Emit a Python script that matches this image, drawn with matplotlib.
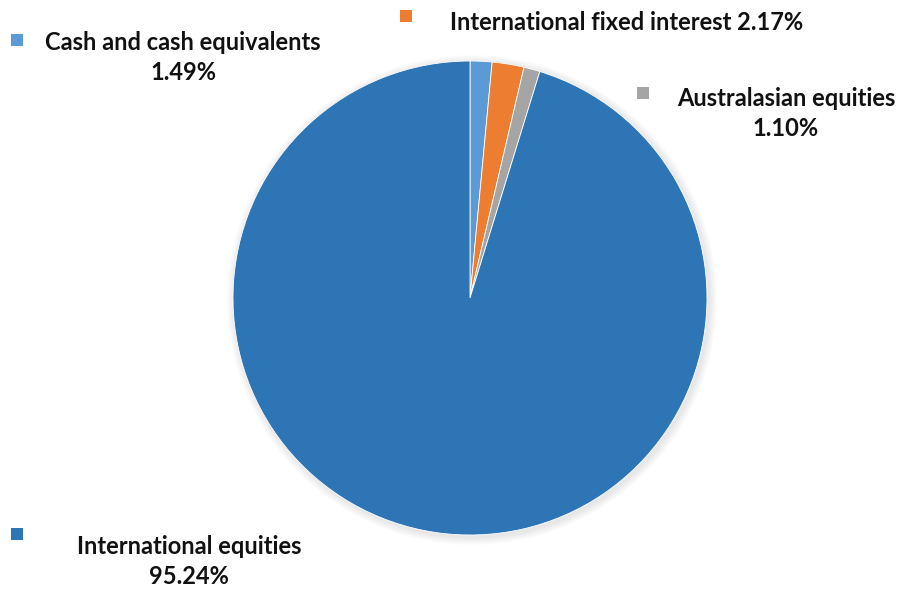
import matplotlib.pyplot as plt
import numpy as np

# --- Data ---
labels = ["Cash and cash equivalents", "International fixed interest",
          "Australasian equities", "International equities"]
values = [1.49, 2.17, 1.10, 95.24]
colors = ["#5B9BD5", "#ED7D31", "#A5A5A5", "#2E75B6"]

W, H = 901, 589
fig = plt.figure(figsize=(W / 100, H / 100), dpi=100)
ax = fig.add_axes([0, 0, 1, 1])

cx, cy, r = 470, 298, 237

# soft shadow behind pie
for k in range(8):
    circ = plt.Circle((cx + 2, cy + 2), r + 8 - k, color="black", alpha=0.012, lw=0)
    ax.add_patch(circ)

# y axis is inverted (pixel coords), so startangle -90 = top, counterclock = visually clockwise
ax.pie(values, colors=colors, startangle=-90, counterclock=True,
       center=(cx, cy), radius=r, wedgeprops=dict(linewidth=0.6, edgecolor="white"),
       frame=True)
ax.set_xlim(0, W)
ax.set_ylim(H, 0)
ax.set_aspect("equal")
ax.axis("off")

font = dict(family=["Lato", "DejaVu Sans"], fontweight="bold", fontsize=17, color="#111111")

# (marker x, marker y, text x center, line1 y, line2 y or None)
pos = [
    (17, 40, 183, 43, 73),
    (406, 16, 627, 22, None),
    (643, 93, 786, 98, 128),
    (17, 534, 189, 546, 576),
]

for (mx, my, tx, ty1, ty2), lab, val, col in zip(pos, labels, values, colors):
    ax.add_patch(plt.Rectangle((mx - 6, my - 6), 12, 12, color=col, lw=0))
    if ty2 is None:
        ax.text(tx, ty1, f"{lab} {val:.2f}%", ha="center", va="center", **font)
    else:
        ax.text(tx, ty1, lab, ha="center", va="center", **font)
        ax.text(tx, ty2, f"{val:.2f}%", ha="center", va="center", **font)

fig.savefig("out.png", dpi=100)
